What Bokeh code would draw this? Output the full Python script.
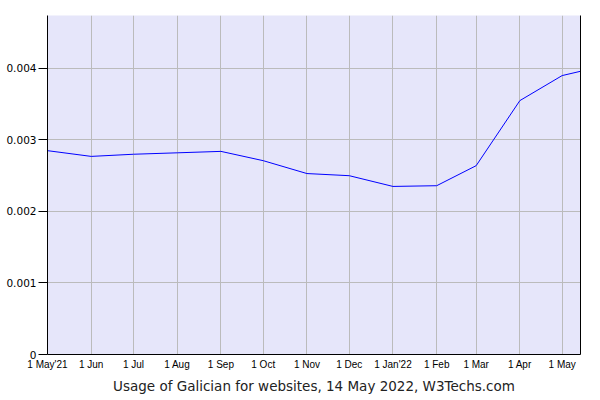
from datetime import datetime, timezone
from bokeh.plotting import figure
from bokeh.models import FixedTicker, LinearAxis, Range1d
from bokeh.embed import file_html
from bokeh.resources import INLINE

dates = ["2021-05-01", "2021-06-01", "2021-07-01", "2021-08-01", "2021-09-01",
         "2021-10-01", "2021-11-01", "2021-12-01", "2022-01-01", "2022-02-01",
         "2022-03-01", "2022-04-01", "2022-05-01", "2022-05-14"]
usage = [0.00285, 0.00277, 0.00280, 0.00282, 0.00284, 0.00271, 0.00253,
         0.00250, 0.00235, 0.00236, 0.00264, 0.00355, 0.00390, 0.00396]

tick_dates = ["2021-05-01", "2021-06-01", "2021-07-01", "2021-08-01", "2021-09-01",
              "2021-10-01", "2021-11-01", "2021-12-01", "2022-01-01", "2022-02-01",
              "2022-03-01", "2022-04-01", "2022-05-01"]
tick_labels = ["1 May'21", "1 Jun", "1 Jul", "1 Aug", "1 Sep", "1 Oct", "1 Nov",
               "1 Dec", "1 Jan'22", "1 Feb", "1 Mar", "1 Apr", "1 May"]
y_ticks = [0, 0.001, 0.002, 0.003, 0.004]
y_labels = ["0", "0.001", "0.002", "0.003", "0.004"]
title = "Usage of Galician for websites, 14 May 2022, W3Techs.com"


def ms(s):
    d = datetime.strptime(s, "%Y-%m-%d").replace(tzinfo=timezone.utc)
    return d.timestamp() * 1000.0


xs = [ms(d) for d in dates]
xt = [ms(d) for d in tick_dates]

p = figure(width=600, height=400, output_backend="svg", toolbar_location=None,
           x_axis_type="datetime",
           x_range=Range1d(ms("2021-05-01"), ms("2022-05-14")),
           y_range=Range1d(0, 0.00474),
           min_border_left=47, min_border_top=15, min_border_right=20,
           min_border_bottom=46)
p.background_fill_color = "#E6E6FA"
p.border_fill_color = "white"
p.outline_line_color = None

p.line(xs, usage, line_color="#0000FF", line_width=1)

xa = p.xaxis[0]
xa.ticker = FixedTicker(ticks=xt)
xa.major_label_overrides = {t: l for t, l in zip(xt, tick_labels)}
xa.major_tick_out = 0
xa.major_tick_in = 0
xa.minor_tick_out = 0
xa.minor_tick_in = 0
xa.axis_line_color = "black"
xa.major_label_text_font = "Liberation Sans"
xa.major_label_text_font_size = "10px"
xa.major_label_text_color = "black"
xa.major_label_standoff = 4
xa.axis_label = title
xa.axis_label_text_font = "DejaVu Sans"
xa.axis_label_text_font_size = "13.5px"
xa.axis_label_text_font_style = "normal"
xa.axis_label_text_color = "#222222"
xa.axis_label_standoff = 5

ya = p.yaxis[0]
ya.ticker = FixedTicker(ticks=y_ticks)
ya.major_label_overrides = {t: l for t, l in zip(y_ticks, y_labels)}
ya.major_tick_out = 9
ya.major_tick_in = 0
ya.minor_tick_out = 0
ya.minor_tick_in = 0
ya.axis_line_color = "black"
ya.major_tick_line_color = "black"
ya.major_label_text_font = "DejaVu Sans"
ya.major_label_text_font_size = "10.5px"
ya.major_label_text_color = "black"
ya.major_label_standoff = 2

ra = LinearAxis(ticker=FixedTicker(ticks=[]), major_tick_out=0, major_tick_in=0,
                minor_tick_out=0, minor_tick_in=0, major_label_text_font_size="0px",
                axis_line_color="black")
p.add_layout(ra, "right")

p.xgrid.ticker = FixedTicker(ticks=xt)
p.ygrid.ticker = FixedTicker(ticks=y_ticks)
p.xgrid.grid_line_color = "#BBBBBB"
p.ygrid.grid_line_color = "#BBBBBB"

open("out.html", "w").write(file_html(p, INLINE))
